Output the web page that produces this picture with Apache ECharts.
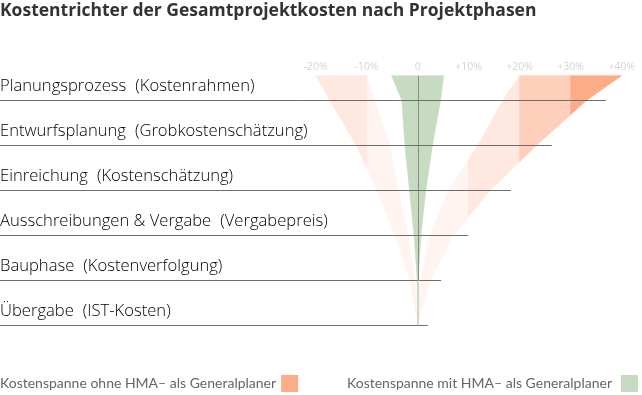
<!DOCTYPE html>
<html><head><meta charset="utf-8">
<script src="https://cdn.jsdelivr.net/npm/echarts@6/dist/echarts.min.js"></script>
<style>html,body{margin:0;padding:0;background:#fff}#c{width:642px;height:395px}</style>
</head><body><div id="c"></div>
<script>
// ---- data ----
const titleText = 'Kostentrichter der Gesamtprojektkosten nach Projektphasen';
const phaseNames = ['Planungsprozess', 'Entwurfsplanung', 'Einreichung', 'Ausschreibungen & Vergabe', 'Bauphase', 'Übergabe'];
const phaseCosts = ['(Kostenrahmen)', '(Grobkostenschätzung)', '(Kostenschätzung)', '(Vergabepreis)', '(Kostenverfolgung)', '(IST-Kosten)'];
const phaseLineEnd = [36.9, 26.3, 18.3, 9.9, 4.6, 2.0];          // % where each phase line ends
const stageLevel = [0.45, 1, 2, 3, 4, 5, 6];                      // funnel top edge, then phases 1..6
const ohneLeftOuter  = [-20, -17.2, -12.0, -8.0, -4.4, -1.5, 0];
const ohneLeftInner  = [-10, -8.4, -5.4, -3.8, -1.9, -0.5, 0];
const ohneRightInner = [20, 16.7, 11.8, 6.0, 2.5, 0.5, 0];
const ohneRightOuter = [40, 33.1, 23.3, 14.2, 7.0, 2.5, 0];
const mitLeft  = [-5.1, -3.1, -2.5, -1.6, -0.7, -0.1, 0];
const mitRight = [5.1, 4.5, 2.9, 1.6, 0.65, 0.1, 0];
const tickValues = [-20, -10, 0, 10, 20, 30, 40];
const bandEdges = [0, 10, 20, 30, 40];
const bandColors = ['#fff4f0', '#fee8df', '#fecfbb', '#fdac88'];
const legendNames = ['Kostenspanne ohne HMA– als Generalplaner', 'Kostenspanne mit HMA– als Generalplaner'];
const legendColors = ['#fdac88', '#c6dbc0'];

// ---- helpers ----
function clipHalf(pts, keep, xc) {
  const out = [];
  for (let i = 0; i < pts.length; i++) {
    const p = pts[i], q = pts[(i + 1) % pts.length];
    const pin = keep(p[0]), qin = keep(q[0]);
    if (pin) out.push(p);
    if (pin !== qin) {
      const t = (xc - p[0]) / (q[0] - p[0]);
      out.push([xc, p[1] + t * (q[1] - p[1])]);
    }
  }
  return out;
}
function clipBand(pts, a, b) {
  let r = clipHalf(pts, x => x >= a, a);
  if (r.length < 3) return [];
  r = clipHalf(r, x => x <= b, b);
  return r.length < 3 ? [] : r;
}
const FONT = '"Open Sans", "Noto Sans", sans-serif';
const LFONT = 'Lato, sans-serif';
const segIdx = stageLevel.slice(0, -1).map((l, i) => [i]);
const phaseIdx = phaseNames.map((n, i) => [i]);

const chart = echarts.init(document.getElementById('c'), null, {renderer: 'canvas'});
chart.setOption({
  animation: false,
  title: {
    text: titleText, left: 0, top: 2, padding: 0,
    textStyle: {fontFamily: FONT, fontSize: 17.5, fontWeight: 'bold', color: '#333'}
  },
  legend: [
    {data: [legendNames[0]], left: 0, top: 375, padding: 0, align: 'right', icon: 'rect',
     itemWidth: 17, itemHeight: 17, selectedMode: false,
     textStyle: {fontFamily: LFONT, fontSize: 14, color: '#666'}},
    {data: [legendNames[1]], right: 4, top: 375, padding: 0, align: 'right', icon: 'rect',
     itemWidth: 17, itemHeight: 17, selectedMode: false,
     textStyle: {fontFamily: LFONT, fontSize: 14, color: '#666', padding: [0, 4, 0, 0]}}
  ],
  grid: {left: 9.7, width: 632.3, top: 75.7, height: 249.75, containLabel: false, outerBoundsMode: 'none'},
  xAxis: {
    type: 'value', min: -80, max: 44, interval: 10, position: 'top',
    axisLine: {show: false}, axisTick: {show: false}, splitLine: {show: false},
    axisLabel: {
      margin: 3, color: '#d4d4d4', fontSize: 10.5, fontFamily: FONT, showMaxLabel: false,
      formatter: v => tickValues.indexOf(v) < 0 ? '' : (v > 0 ? '+' + v + '%' : (v === 0 ? '0' : v + '%'))
    }
  },
  yAxis: {type: 'value', inverse: true, min: 0.45, max: 6, show: false},
  series: [
    {
      name: legendNames[0], type: 'custom', clip: false, z: 1,
      itemStyle: {color: legendColors[0]},
      data: segIdx,
      renderItem: function (params, api) {
        const i = api.value(0);
        const y0 = stageLevel[i], y1 = stageLevel[i + 1];
        const polys = [
          [[ohneRightInner[i], y0], [ohneRightOuter[i], y0], [ohneRightOuter[i + 1], y1], [ohneRightInner[i + 1], y1]],
          [[ohneLeftOuter[i], y0], [ohneLeftInner[i], y0], [ohneLeftInner[i + 1], y1], [ohneLeftOuter[i + 1], y1]]
        ];
        const children = [];
        for (let b = 0; b < bandColors.length; b++) {
          const a = bandEdges[b], c = bandEdges[b + 1];
          [clipBand(polys[0], a, c), clipBand(polys[1], -c, -a)].forEach(pp => {
            if (pp.length) children.push({
              type: 'polygon',
              shape: {points: pp.map(p => api.coord(p))},
              style: {fill: bandColors[b], stroke: bandColors[b], lineWidth: 0.6}
            });
          });
        }
        return {type: 'group', children: children};
      }
    },
    {
      name: legendNames[1], type: 'custom', clip: false, z: 2,
      itemStyle: {color: legendColors[1]},
      data: segIdx,
      renderItem: function (params, api) {
        const i = api.value(0);
        const y0 = stageLevel[i], y1 = stageLevel[i + 1];
        const pts = [[mitLeft[i], y0], [mitRight[i], y0], [mitRight[i + 1], y1], [mitLeft[i + 1], y1]];
        return {
          type: 'polygon',
          shape: {points: pts.map(p => api.coord(p))},
          style: {fill: legendColors[1], stroke: legendColors[1], lineWidth: 0.5}
        };
      }
    },
    {
      name: 'phases', type: 'custom', clip: false, z: 3, silent: true,
      data: phaseIdx,
      renderItem: function (params, api) {
        const k = api.value(0);
        const yv = k + 1;
        const pStart = api.coord([-82, yv]);
        const pEnd = api.coord([phaseLineEnd[k], yv]);
        const children = [
          {type: 'line', shape: {x1: 0, y1: Math.round(pStart[1]) + 0.5, x2: pEnd[0], y2: Math.round(pStart[1]) + 0.5},
           style: {stroke: '#6e6e6e', lineWidth: 1}},
          {type: 'text', x: 0, y: pStart[1] - 14,
           style: {text: '{a|' + phaseNames[k] + '}{b|' + phaseCosts[k] + '}',
                   verticalAlign: 'middle', align: 'left',
                   rich: {a: {fontFamily: FONT, fontSize: 16.6, fontWeight: 300, color: '#555'},
                          b: {fontFamily: FONT, fontSize: 16.6, fontWeight: 300, color: '#555', padding: [0, 0, 0, 9]}}}}
        ];
        const top = api.coord([0, k === 0 ? stageLevel[0] : k]);
        const bot = api.coord([0, k + 1]);
        children.push({type: 'line', shape: {x1: Math.round(top[0]) + 0.5, y1: top[1], x2: Math.round(top[0]) + 0.5, y2: bot[1]},
                       style: {stroke: k < 5 ? '#8a8a8a' : '#d0d0d0', lineWidth: 1}});
        return {type: 'group', children: children};
      }
    }
  ]
});
</script>
</body></html>
